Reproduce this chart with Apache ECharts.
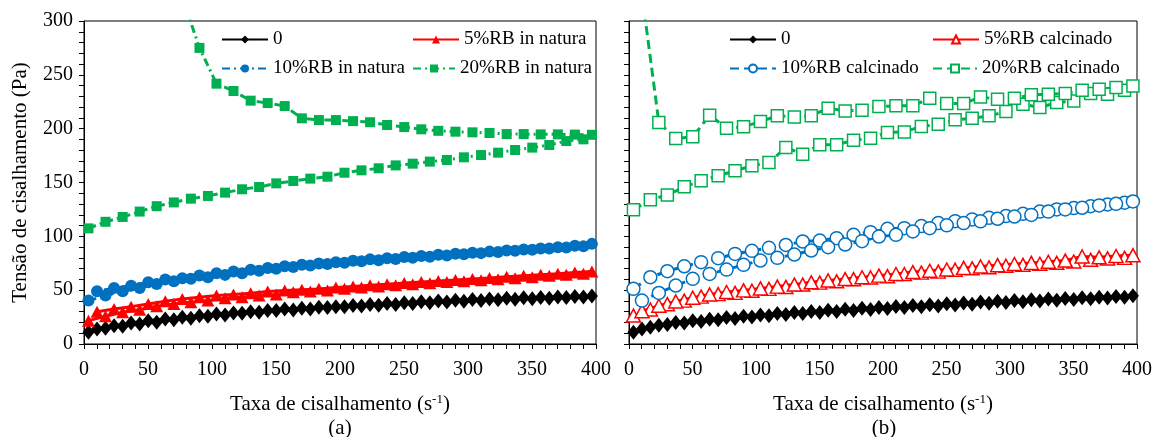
<!DOCTYPE html>
<html><head><meta charset="utf-8">
<script src="https://cdn.jsdelivr.net/npm/echarts@6/dist/echarts.min.js"></script>
<style>html,body{margin:0;padding:0;background:#fff}#c{width:1155px;height:437px}</style>
</head><body><div id="c"></div>
<script>
// shear rate (s-1) of the ramp-up and ramp-down readings
const xUp = [3.5, 16.8, 30.2, 43.5, 56.8, 70.2, 83.5, 96.8, 110.2, 123.5, 136.8, 150.2, 163.5, 176.8, 190.2, 203.5, 216.8, 230.2, 243.5, 256.8, 270.2, 283.5, 296.8, 310.2, 323.5, 336.8, 350.2, 363.5, 376.8, 390.2];
const xDown = [10.2, 23.5, 36.8, 50.2, 63.5, 76.8, 90.2, 103.5, 116.8, 130.2, 143.5, 156.8, 170.2, 183.5, 196.8, 210.2, 223.5, 236.8, 250.2, 263.5, 276.8, 290.2, 303.5, 316.8, 330.2, 343.5, 356.8, 370.2, 383.5, 396.8];

// panel (a) - in natura
const a0Up = [10.9, 14.6, 16.5, 18.6, 20.2, 22.6, 23.9, 25.7, 27, 28.6, 29.5, 31, 31.6, 32.6, 33.8, 34.6, 35.3, 36, 36.8, 37.6, 38.4, 39.1, 39.8, 40.4, 41, 41.6, 42.1, 42.6, 43.1, 43.6];
const a0Down = [14, 17, 19.5, 21.7, 23.3, 24.8, 26.3, 27.9, 28.8, 30, 31, 32.6, 33.2, 34.1, 34.7, 35.8, 36.7, 37.6, 38.4, 39.2, 40, 40.7, 41.3, 41.9, 42.4, 42.9, 43.3, 43.7, 44.1, 44.6];
const a5Up = [21.7, 25.7, 29.5, 31.9, 35, 37.2, 38.8, 40.3, 42.5, 43.4, 45, 45.9, 48, 48.7, 49.6, 51.2, 52.5, 53.5, 54.5, 55.5, 56.5, 57.5, 58.3, 59.2, 60.2, 61.1, 62, 63.3, 64.4, 65.2];
const a5Down = [30, 32.6, 34.7, 37.2, 39.7, 41.9, 43.4, 45, 45.9, 47.1, 48.7, 49.6, 50.5, 51.2, 52.4, 53.5, 54.6, 55.6, 56.7, 57.6, 58.5, 59.4, 60.4, 61.4, 62.4, 63.4, 64.4, 65.3, 66.5, 67.3];
const a10Up = [40.3, 45, 49, 52, 55.8, 58.3, 60.5, 62, 64.2, 65.8, 68, 70, 71.5, 73, 74.3, 75.5, 76.8, 77.8, 78.9, 80, 81.1, 82.2, 83.3, 84.4, 85.5, 86.6, 87.6, 88.6, 89.7, 90.8];
const a10Down = [49, 52, 54, 57.4, 59.8, 61, 63.6, 65.8, 67.3, 69, 70.6, 72.2, 73.6, 74.8, 76, 77.4, 78.6, 79.7, 80.8, 81.8, 82.8, 83.8, 84.8, 85.8, 86.8, 87.8, 88.8, 89.8, 91.2, 93];
const a20Up = [107.4, 113.5, 118, 123, 128, 131.5, 135, 137.5, 140.6, 143.7, 145.8, 149.2, 151.4, 153.6, 155.4, 159.1, 161.3, 163.2, 165.9, 167.5, 169.4, 170.9, 173.4, 175.5, 177.7, 180.2, 182.4, 184.8, 188.5, 190.1];
const a20Down = [780, 620, 510, 430, 370, 322, 275, 241.8, 235, 226, 223.8, 221, 209.6, 208, 208, 207, 206, 203.4, 201.5, 199.4, 198, 197.2, 196.6, 196, 195, 195, 194.7, 194.7, 194.5, 194.3];

// panel (b) - calcinado
const b0Up = [10.9, 15.5, 18, 19.5, 21, 22.5, 23.8, 25, 26.3, 27.3, 28.3, 29.3, 30.2, 31.1, 32, 33, 33.8, 34.6, 35.4, 36.2, 37, 37.8, 38.5, 39.3, 40, 40.7, 41.4, 42.1, 42.8, 43.5];
const b0Down = [14, 17.4, 20, 21.5, 23, 24.5, 25.8, 27, 28.3, 29.3, 30.3, 31.3, 32.2, 33.1, 34, 34.9, 35.7, 36.5, 37.3, 38.1, 38.9, 39.6, 40.3, 41, 41.7, 42.3, 42.9, 43.5, 44.1, 44.7];
const b5Up = [26.4, 32, 37, 40.3, 44, 46.3, 47.5, 49.5, 51.2, 53, 55.2, 57, 58.2, 60.2, 61.8, 63, 65, 66.3, 67.2, 69, 70.3, 71.2, 72.7, 73.5, 74.5, 75.4, 76.6, 78.2, 79.5, 80];
const b5Down = [30.5, 35.5, 39.5, 43, 46, 48.3, 49.8, 51.6, 53.3, 55.2, 57.3, 59, 60.3, 62, 63.5, 65, 66.8, 68, 69.2, 70.7, 72, 73.2, 74.3, 75.3, 76.4, 77.5, 81.3, 80.5, 81.7, 82.5];
const b10Up = [51.2, 62, 67.6, 72.2, 76, 79.7, 83.7, 86.5, 89.3, 92, 95.2, 96.1, 98.3, 101.4, 103.9, 107, 107.6, 109.5, 112.3, 114.1, 115.7, 117.2, 118.8, 120.9, 123, 125, 126.2, 128, 129.6, 131.2];
const b10Down = [40.3, 47.4, 54.3, 60.5, 65.1, 69.1, 73.5, 77.5, 80, 83.1, 86.8, 89.9, 92.4, 95.5, 99.8, 101.4, 104.5, 107.6, 110.2, 112.3, 113.9, 116.3, 118.4, 119.9, 123, 125, 126.5, 128.7, 130.2, 132.4];
const b20Up = [124.7, 134, 138.3, 146, 151.6, 156.2, 160.9, 165.5, 168.6, 182.5, 176.3, 185, 185, 189.3, 191.2, 196.4, 197, 202, 204.1, 208.2, 209.7, 211.9, 215.9, 222.7, 219.6, 224.2, 225.8, 232.6, 232, 235.7];
const b20Down = [325, 205.7, 190.9, 192.4, 212.5, 200.4, 201.7, 206.6, 211.9, 210.9, 211.9, 219, 216.5, 217.1, 220.5, 221.2, 221.2, 228.3, 223.3, 223.3, 229.5, 227.3, 228.3, 231.4, 232, 232.6, 235.7, 236.6, 238.2, 239.7];

const namesA = ['0', '5%RB in natura', '10%RB in natura', '20%RB in natura'];
const namesB = ['0', '5%RB calcinado', '10%RB calcinado', '20%RB calcinado'];
const xTicks = [0, 400, 50];
const yTicks = [0, 300, 50];

const FONT = 'Liberation Serif';
const BLACK = '#000000', RED = '#FF0000', BLUE = '#0070C0', GREEN = '#00B050';

function loop(up, down) {
  const pts = xUp.map((x, i) => [x, up[i]]);
  for (let k = xDown.length - 1; k >= 0; k--) pts.push([xDown[k], down[k]]);
  return pts;
}
function mk(name, idx, up, down, color, symbol, size, dash, open) {
  return {
    name, type: 'line', xAxisIndex: idx, yAxisIndex: idx, data: loop(up, down),
    symbol, symbolSize: size, showSymbol: true, clip: true,
    lineStyle: { color, width: 3, type: dash },
    itemStyle: open ? { color: '#ffffff', borderColor: color, borderWidth: 1.5 } : { color, borderWidth: 0 },
    emphasis: { disabled: true }
  };
}
const dashDot = [8, 4, 2, 4];
const dashed = [9, 5];
const series = [
  mk(namesA[0], 0, a0Up, a0Down, BLACK, 'diamond', [12, 15], 'solid', false),
  mk(namesA[1], 0, a5Up, a5Down, RED, 'triangle', [13, 12], 'solid', false),
  mk(namesA[2], 0, a10Up, a10Down, BLUE, 'circle', 12, dashDot, false),
  mk(namesA[3], 0, a20Up, a20Down, GREEN, 'rect', 10, dashDot, false),
  mk(namesB[0], 1, b0Up, b0Down, BLACK, 'diamond', [12, 15], 'solid', false),
  mk(namesB[1], 1, b5Up, b5Down, RED, 'triangle', [14, 13], 'solid', true),
  mk(namesB[2], 1, b10Up, b10Down, BLUE, 'circle', 13, dashed, true),
  mk(namesB[3], 1, b20Up, b20Down, GREEN, 'rect', 12, dashed, true)
];
function lg(name, left, top, w) {
  return { data: [name], left, top, orient: 'horizontal', itemWidth: w, itemHeight: 10, padding: 0, itemGap: 0,
    selectedMode: false, textStyle: { fontFamily: FONT, fontSize: 19, color: '#000' } };
}
const legends = [
  lg(namesA[0], 221, 30, 46), lg(namesA[1], 412, 30, 46), lg(namesA[2], 221, 59, 46), lg(namesA[3], 412, 59, 42),
  lg(namesB[0], 729, 30, 46), lg(namesB[1], 932, 30, 46), lg(namesB[2], 729, 59, 46), lg(namesB[3], 932, 59, 44)
];
function xAx(idx) {
  return {
    gridIndex: idx, type: 'value', min: xTicks[0], max: xTicks[1], interval: xTicks[2],
    axisLine: { onZero: false, lineStyle: { color: '#000', width: 1 } },
    axisTick: { show: true, inside: false, length: 5, lineStyle: { color: '#000' } },
    minorTick: { show: true, splitNumber: 5, length: 5, lineStyle: { color: '#000' } },
    splitLine: { show: false }, minorSplitLine: { show: false },
    axisLabel: { fontFamily: FONT, fontSize: 20, color: '#000', margin: 16 },
    name: 'Taxa de cisalhamento (s{sup|-1})', nameLocation: 'middle', nameGap: 49,
    nameTextStyle: { fontFamily: FONT, fontSize: 21, color: '#000', lineHeight: 22,
      rich: { sup: { fontFamily: FONT, fontSize: 13, color: '#000', verticalAlign: 'top', lineHeight: 13 } } }
  };
}
function yAx(idx) {
  return {
    gridIndex: idx, type: 'value', min: yTicks[0], max: yTicks[1], interval: yTicks[2],
    axisLine: { show: true, onZero: false, lineStyle: { color: '#000', width: 1 } },
    axisTick: { show: true, inside: false, length: 5, lineStyle: { color: '#000' } },
    minorTick: { show: true, splitNumber: 5, length: 5, lineStyle: { color: '#000' } },
    splitLine: { show: false }, minorSplitLine: { show: false },
    axisLabel: { show: idx === 0, fontFamily: FONT, fontSize: 20, color: '#000', margin: 11 },
    name: idx === 0 ? 'Tensão de cisalhamento (Pa)' : '', nameLocation: 'middle', nameGap: 53, nameRotate: 90,
    nameTextStyle: { fontFamily: FONT, fontSize: 21, color: '#000' }
  };
}
const chart = echarts.init(document.getElementById('c'));
chart.setOption({
  animation: false,
  backgroundColor: '#fff',
  grid: [
    { left: 84, top: 21, width: 512, height: 323, show: true, borderColor: '#000', borderWidth: 1, backgroundColor: 'transparent' },
    { left: 629, top: 21, width: 510, height: 323, show: true, borderColor: '#000', borderWidth: 1, backgroundColor: 'transparent' }
  ],
  xAxis: [xAx(0), xAx(1)],
  yAxis: [yAx(0), yAx(1)],
  legend: legends,
  series,
  graphic: [
    { type: 'text', x: 340, y: 428, style: { text: '(a)', fontFamily: FONT, fontSize: 21, fill: '#000', align: 'center', verticalAlign: 'middle' } },
    { type: 'text', x: 884, y: 428, style: { text: '(b)', fontFamily: FONT, fontSize: 21, fill: '#000', align: 'center', verticalAlign: 'middle' } }
  ]
});
</script></body></html>
